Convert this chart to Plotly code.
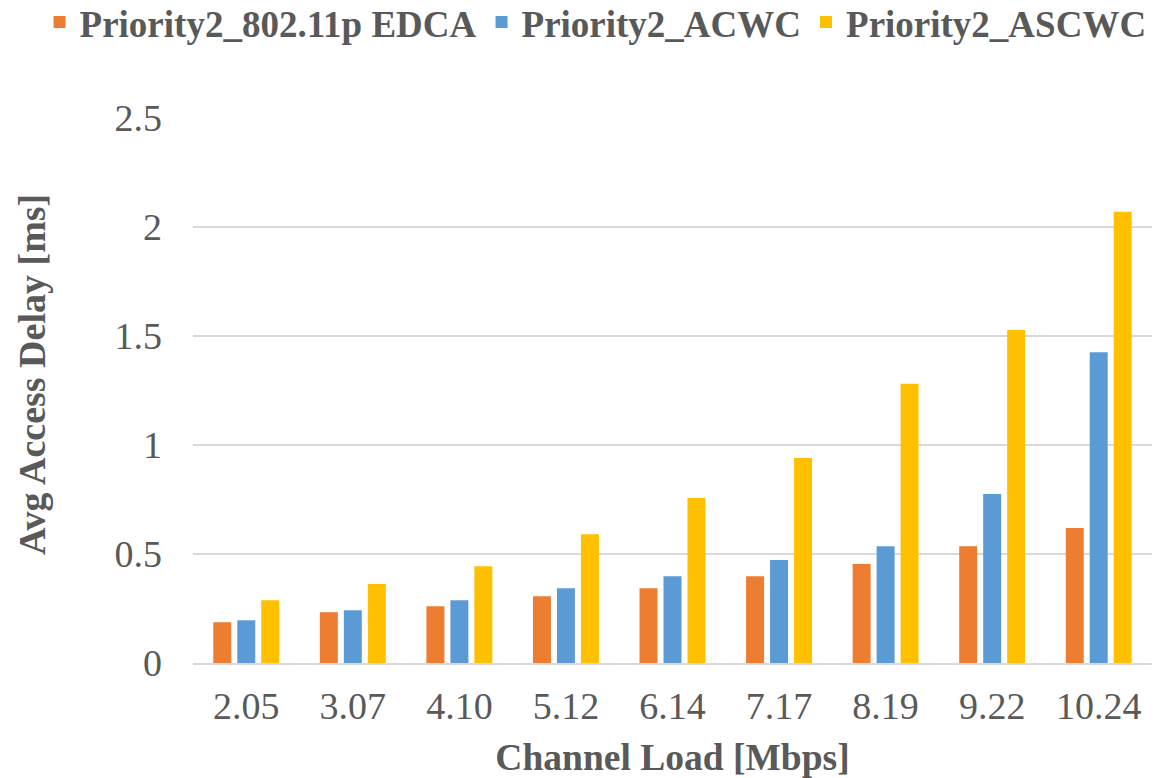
import plotly.graph_objects as go

# Channel load categories (Mbps)
loads = ["2.05", "3.07", "4.10", "5.12", "6.14", "7.17", "8.19", "9.22", "10.24"]

# Average access delay (ms) per scheme
edca = [0.187, 0.233, 0.260, 0.306, 0.343, 0.398, 0.454, 0.536, 0.619]
acwc = [0.196, 0.242, 0.288, 0.343, 0.398, 0.472, 0.536, 0.775, 1.426]
ascwc = [0.288, 0.362, 0.444, 0.591, 0.757, 0.940, 1.281, 1.527, 2.070]

series = [
    ("Priority2_802.11p EDCA", edca, "#ED7D31"),
    ("Priority2_ACWC", acwc, "#5B9BD5"),
    ("Priority2_ASCWC", ascwc, "#FFC000"),
]

FONT = "Liberation Serif, Times New Roman, serif"
TEXT = "#595959"

fig = go.Figure()
for name, vals, color in series:
    fig.add_trace(go.Bar(
        x=loads, y=vals, name=name,
        marker=dict(color=color, line=dict(width=0)),
    ))

fig.update_layout(
    width=1175, height=778,
    margin=dict(l=193, r=23, t=118, b=115, autoexpand=False),
    paper_bgcolor="white", plot_bgcolor="white",
    barmode="group", bargap=0.325, bargroupgap=0.25,
    font=dict(family=FONT, color=TEXT, size=36),
    # legend anchored left of the plot area and above it, so one row may
    # span nearly the full page width
    legend=dict(
        orientation="h", x=-0.16, xref="paper", xanchor="left",
        y=1.232, yref="paper", yanchor="top",
        font=dict(family=FONT, size=37, color=TEXT, weight="bold"),
        itemwidth=30, tracegroupgap=0,
    ),
    xaxis=dict(
        type="category",
        showgrid=False,
        showline=True, linecolor="#D9D9D9", linewidth=2,
        ticks="", ticklabelstandoff=8,
        tickfont=dict(size=38, color=TEXT),
        title=dict(text="Channel Load [Mbps]", standoff=18,
                   font=dict(size=37.5, color=TEXT, weight="bold")),
    ),
    yaxis=dict(
        range=[0, 2.5], dtick=0.5, tickformat="~g",
        showgrid=True, gridcolor="#D9D9D9", gridwidth=2,
        zeroline=False, showline=False,
        ticks="", ticklabelstandoff=30,
        tickfont=dict(size=38, color=TEXT),
    ),
    annotations=[dict(
        text="Avg Access Delay [ms]", textangle=-90,
        xref="paper", yref="paper", x=-0.168, y=0.53,
        xanchor="center", yanchor="middle", showarrow=False,
        font=dict(family=FONT, size=38, color=TEXT, weight="bold"),
    )],
)

fig.write_html("out.html")
